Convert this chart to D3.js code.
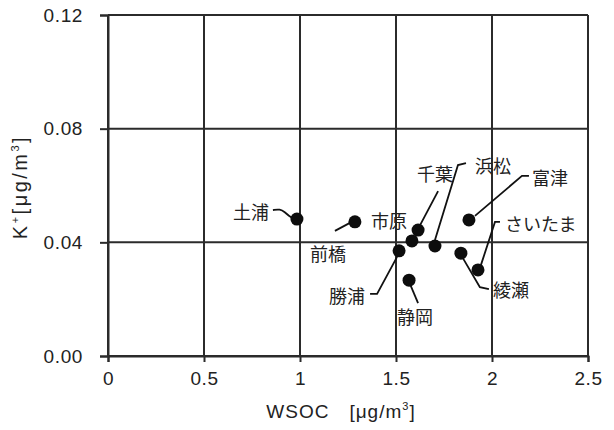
<!DOCTYPE html>
<html>
<head>
<meta charset="utf-8">
<script src="https://cdn.jsdelivr.net/npm/d3@7"></script>
<style>
    body { margin: 0; background: #fff; }
    text { font-family: "Liberation Sans", "Noto Sans CJK JP", sans-serif; fill: #222; }
    .jp { font-family: "Noto Sans CJK JP", sans-serif; }
</style>
</head>
<body>
<div id="box-div"></div>
<script>
// data
const sites = ['土浦', '前橋', '市原', '千葉', '勝浦', '静岡', '浜松', '綾瀬', 'さいたま', '富津']
const wsoc  = [0.984, 1.286, 1.583, 1.615, 1.516, 1.568, 1.703, 1.838, 1.927, 1.880]
const kPlus = [0.0482, 0.0472, 0.0405, 0.0443, 0.0370, 0.0267, 0.0387, 0.0362, 0.0303, 0.0479]
const xTicks = [0, 0.5, 1, 1.5, 2, 2.5]
const yTicks = [0, 0.04, 0.08, 0.12]

// where each name sits relative to its dot (px), plus leader line points
const labelLayout = {
    '土浦':   { dx: -46, dy: -8,  anchor: 'middle', leader: [[-24, -9], [-17, -10], [-12, -7], [-8, -3], [-4, -1]] },
    '前橋':   { dx: -27, dy: 31,  anchor: 'middle', leader: [[-20, 9], [-5, 1]] },
    '市原':   { dx: -23, dy: -21, anchor: 'middle', leader: null },
    '千葉':   { dx: 17,  dy: -57, anchor: 'middle', leader: [[20, -39], [2, -5]] },
    '勝浦':   { dx: -34, dy: 44,  anchor: 'end',    leader: [[-29, 43], [-22, 43], [-2, 6]] },
    '静岡':   { dx: 6,   dy: 36,  anchor: 'middle', leader: [[1, 4], [9, 23]] },
    '浜松':   { dx: 40,  dy: -81, anchor: 'start',  leader: [[0, -6], [23, -81], [31, -83]] },
    '綾瀬':   { dx: 32,  dy: 36,  anchor: 'start',  leader: [[2, 5], [19, 34], [28, 36]] },
    'さいたま': { dx: 27,  dy: -47, anchor: 'start',  leader: [[3, -5], [17, -48], [22, -48]] },
    '富津':   { dx: 63,  dy: -43, anchor: 'start',  leader: [[6, -4], [53, -44], [60, -44]] }
}

let dms = {
    width: 614,
    height: 430,
    margin: { top: 15, right: 26, bottom: 74, left: 108 }
}
dms.chartWidth = dms.width - dms.margin.left - dms.margin.right
dms.chartHeight = dms.height - dms.margin.top - dms.margin.bottom

const box = d3.select('#box-div').append('svg')
    .attr('width', dms.width)
    .attr('height', dms.height)

const content = box.append('g')
    .attr('transform', `translate(${dms.margin.left}, ${dms.margin.top})`)

const xScale = d3.scaleLinear().domain([0, 2.5]).range([0, dms.chartWidth])
const yScale = d3.scaleLinear().domain([0, 0.12]).range([dms.chartHeight, 0])

const lineColor = '#2b2b2b'

// grid
content.append('g').selectAll('line')
    .data(xTicks)
    .join('line')
    .attr('x1', d => xScale(d)).attr('x2', d => xScale(d))
    .attr('y1', 0).attr('y2', dms.chartHeight)
    .attr('stroke', lineColor).attr('stroke-width', 2)
content.append('g').selectAll('line')
    .data(yTicks)
    .join('line')
    .attr('x1', 0).attr('x2', dms.chartWidth)
    .attr('y1', d => yScale(d)).attr('y2', d => yScale(d))
    .attr('stroke', lineColor).attr('stroke-width', 2)

// axes
const xAxis = content.append('g')
    .attr('transform', `translate(0, ${dms.chartHeight})`)
    .call(d3.axisBottom(xScale).tickValues(xTicks).tickFormat(d3.format('')).tickSize(6).tickPadding(10))
const yAxis = content.append('g')
    .call(d3.axisLeft(yScale).tickValues(yTicks).tickFormat(d3.format('.2f')).tickSize(8).tickPadding(17))

;[xAxis, yAxis].forEach(a => {
    a.select('.domain').attr('stroke', lineColor).attr('stroke-width', 2)
    a.selectAll('.tick line').attr('stroke', lineColor).attr('stroke-width', 2)
    a.selectAll('.tick text').attr('font-size', 19).attr('fill', '#222')
        .attr('letter-spacing', 0.6)
        .style('font-family', '"Liberation Sans", sans-serif')
})

// axis titles
const xTitle = box.append('text')
    .attr('x', 341)
    .attr('y', 418)
    .attr('text-anchor', 'middle')
    .attr('font-size', 19)
    .attr('letter-spacing', 1)
xTitle.append('tspan').text('WSOC\u3000[μg/m')
xTitle.append('tspan').attr('font-size', 11).attr('dy', -8).text('3')
xTitle.append('tspan').attr('dy', 8).text(']')

const yTitle = box.append('text')
    .attr('transform', 'translate(27, 187) rotate(-90)')
    .attr('text-anchor', 'middle')
    .attr('font-size', 20)
    .attr('letter-spacing', 2.5)
yTitle.append('tspan').text('K')
yTitle.append('tspan').attr('font-size', 11).attr('dy', -8).text('+')
yTitle.append('tspan').attr('dy', 8).text('[μg/m')
yTitle.append('tspan').attr('font-size', 11).attr('dy', -8).text('3')
yTitle.append('tspan').attr('dy', 8).text(']')

// points
const points = sites.map((s, i) => ({ site: s, x: wsoc[i], y: kPlus[i] }))

const leaders = content.append('g')
leaders.selectAll('path')
    .data(points.filter(d => labelLayout[d.site].leader))
    .join('path')
    .attr('d', d => {
        const cx = xScale(d.x), cy = yScale(d.y)
        const gen = d.site === '土浦' ? d3.line().curve(d3.curveBasis) : d3.line()
        return gen(labelLayout[d.site].leader.map(p => [cx + p[0], cy + p[1]]))
    })
    .attr('fill', 'none')
    .attr('stroke', '#111')
    .attr('stroke-width', 1.8)

content.append('g').selectAll('circle')
    .data(points)
    .join('circle')
    .attr('cx', d => xScale(d.x))
    .attr('cy', d => yScale(d.y))
    .attr('r', 6.5)
    .attr('fill', '#0d0d0d')

content.append('g').selectAll('text')
    .data(points)
    .join('text')
    .attr('class', 'jp')
    .attr('x', d => xScale(d.x) + labelLayout[d.site].dx)
    .attr('y', d => yScale(d.y) + labelLayout[d.site].dy)
    .attr('text-anchor', d => labelLayout[d.site].anchor)
    .attr('dominant-baseline', 'central')
    .attr('font-size', 18)
    .text(d => d.site)
</script>
</body>
</html>
